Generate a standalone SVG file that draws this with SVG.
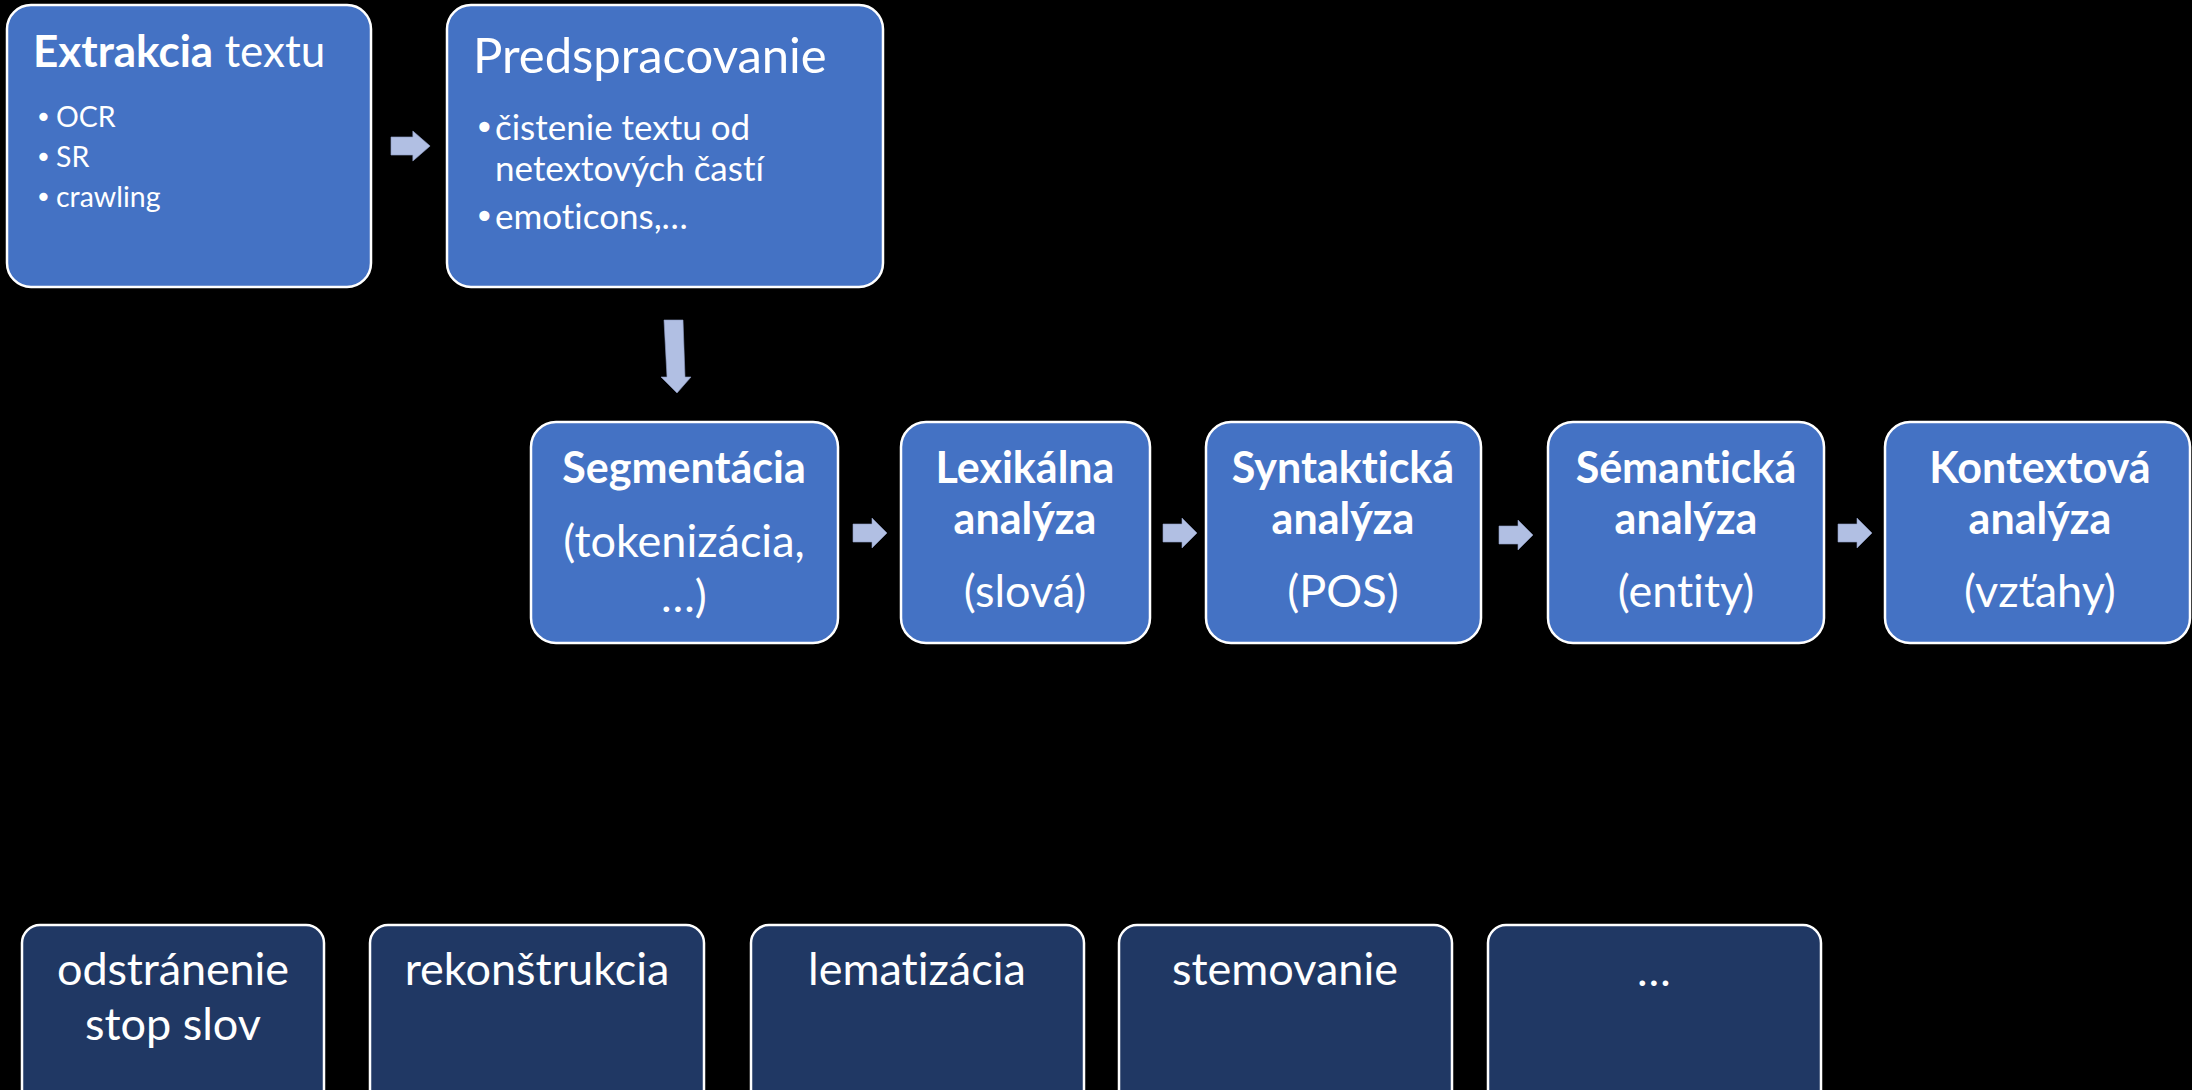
<svg xmlns="http://www.w3.org/2000/svg" width="2192" height="1090" viewBox="0 0 2192 1090">
  <defs>
    <style>
      .blue { fill: #4472c4; stroke: #ffffff; stroke-width: 2.5; }
      .navy { fill: #203864; stroke: #ffffff; stroke-width: 2.5; }
      .arrow { fill: #b1bfe3; stroke: #8e9cc4; stroke-width: 0.6; }
      text { fill: #ffffff; font-family: Lato, "Open Sans", "Liberation Sans", sans-serif; font-variant-ligatures: none; }
      .b { font-weight: 700; }
      .mid { text-anchor: middle; }
      .h1 { font-size: 44px; }
      .h2 { font-size: 49px; }
      .stageb { font-size: 43px; font-weight: 700; }
      .stage { font-size: 45px; }
      .small { font-size: 28.5px; }
      .bul { font-size: 35px; }
      .dot { font-family: "DejaVu Sans", sans-serif; }
      .low { font-size: 45px; }
    </style>
    <path id="rarrow" d="M0,-9 H19 V-15 L34,0 L19,15 V9 H0 Z"/>
  </defs>

  <rect width="2192" height="1090" fill="#000000"/>

  <!-- top row -->
  <g id="extrakcia">
    <rect class="blue" x="7" y="5" width="364" height="282" rx="24"/>
    <text class="h1" x="33" y="67"><tspan class="b">Extrakcia</tspan> textu</text>
    <text class="small dot" x="35" y="127">•</text>
    <text class="small" x="56" y="127">OCR</text>
    <text class="small dot" x="35" y="167">•</text>
    <text class="small" x="56" y="167">SR</text>
    <text class="small dot" x="35" y="207">•</text>
    <text class="small" x="56" y="207">crawling</text>
  </g>

  <g id="predspracovanie">
    <rect class="blue" x="447" y="5" width="436" height="282" rx="24"/>
    <text class="h2" x="473" y="73">Predspracovanie</text>
    <text class="bul dot" x="474" y="140">•</text>
    <text class="bul" x="495" y="140">čistenie textu od</text>
    <text class="bul" x="495" y="181">netextových častí</text>
    <text class="bul dot" x="474" y="229">•</text>
    <text class="bul" x="495" y="229">emoticons,…</text>
  </g>

  <!-- analysis pipeline -->
  <g id="segmentacia">
    <rect class="blue" x="531" y="422" width="307" height="221" rx="25"/>
    <text class="stageb mid" x="684" y="483">Segmentácia</text>
    <text class="stage mid" x="684" y="557">(tokenizácia,</text>
    <text class="stage mid" x="684" y="612">…)</text>
  </g>

  <g id="lexikalna">
    <rect class="blue" x="901" y="422" width="249" height="221" rx="25"/>
    <text class="stageb mid" x="1025" y="483">Lexikálna</text>
    <text class="stageb mid" x="1025" y="534">analýza</text>
    <text class="stage mid" x="1025" y="607">(slová)</text>
  </g>

  <g id="syntakticka">
    <rect class="blue" x="1206" y="422" width="275" height="221" rx="25"/>
    <text class="stageb mid" x="1343" y="483">Syntaktická</text>
    <text class="stageb mid" x="1343" y="534">analýza</text>
    <text class="stage mid" x="1343" y="607">(POS)</text>
  </g>

  <g id="semanticka">
    <rect class="blue" x="1548" y="422" width="276" height="221" rx="25"/>
    <text class="stageb mid" x="1686" y="483">Sémantická</text>
    <text class="stageb mid" x="1686" y="534">analýza</text>
    <text class="stage mid" x="1686" y="607">(entity)</text>
  </g>

  <g id="kontextova">
    <rect class="blue" x="1885" y="422" width="305" height="221" rx="25"/>
    <text class="stageb mid" x="2040" y="483">Kontextová</text>
    <text class="stageb mid" x="2040" y="534">analýza</text>
    <text class="stage mid" x="2040" y="607">(vzťahy)</text>
  </g>

  <!-- bottom row -->
  <g id="stop-slova">
    <rect class="navy" x="22" y="925" width="302" height="200" rx="18"/>
    <text class="low mid" x="173" y="985" textLength="232">odstránenie</text>
    <text class="low mid" x="173" y="1040">stop slov</text>
  </g>
  <g id="rekonstrukcia">
    <rect class="navy" x="370" y="925" width="334" height="200" rx="18"/>
    <text class="low mid" x="537" y="985">rekonštrukcia</text>
  </g>
  <g id="lematizacia">
    <rect class="navy" x="751" y="925" width="333" height="200" rx="18"/>
    <text class="low mid" x="917" y="985">lematizácia</text>
  </g>
  <g id="stemovanie">
    <rect class="navy" x="1119" y="925" width="333" height="200" rx="18"/>
    <text class="low mid" x="1285" y="985">stemovanie</text>
  </g>
  <g id="dalsie">
    <rect class="navy" x="1488" y="925" width="333" height="200" rx="18"/>
    <text class="low mid" x="1654" y="986">…</text>
  </g>

  <!-- connectors -->
  <g id="connectors">
    <use href="#rarrow" class="arrow" transform="translate(391,146) scale(1.15,1)"/>
    <polygon class="arrow" points="664,320 683,320 685,377 691,377 677,393 661,377 667,377"/>
    <use href="#rarrow" class="arrow" transform="translate(853,533)"/>
    <use href="#rarrow" class="arrow" transform="translate(1163,533)"/>
    <use href="#rarrow" class="arrow" transform="translate(1499,535)"/>
    <use href="#rarrow" class="arrow" transform="translate(1838,533)"/>
  </g>
</svg>
